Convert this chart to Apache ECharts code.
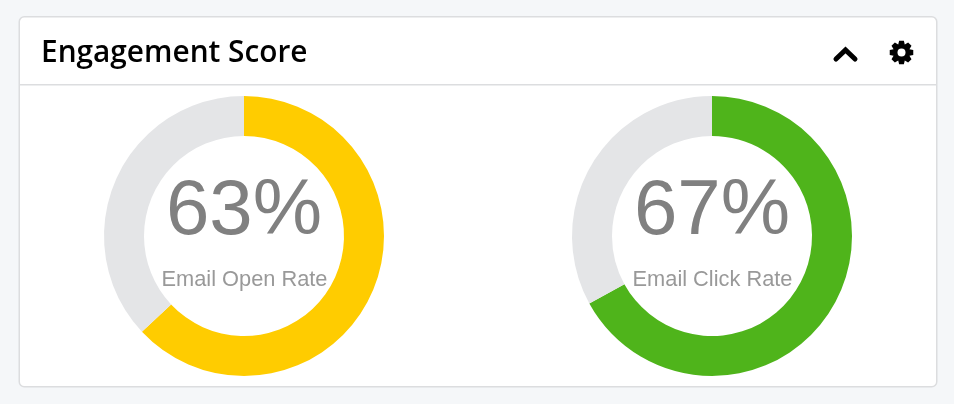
<!DOCTYPE html>
<html><head><meta charset="utf-8">
<style>html,body{margin:0;padding:0;background:#f5f7f9}#c{width:954px;height:404px}</style>
<script src="https://cdn.jsdelivr.net/npm/echarts@6/dist/echarts.min.js"></script>
</head><body><div id="c"></div>
<script>
const cardTitle = 'Engagement Score';
const metricNames = ['Email Open Rate', 'Email Click Rate'];
const metricValues = [63, 67];
const metricColors = ['#ffcc00', '#4fb41b'];
const trackColor = '#e4e5e7';
const centers = [244, 712];

const chart = echarts.init(document.getElementById('c'), null, {renderer: 'canvas'});

const gearPoints = [];
for (let i = 0; i < 8; i++) {
  const a = i * Math.PI / 4 - Math.PI / 2;
  [[-0.39, 8.6], [-0.2, 12], [0.2, 12], [0.39, 8.6]].forEach(([d, r]) => {
    gearPoints.push([901.5 + r * Math.cos(a + d), 52.5 + r * Math.sin(a + d)]);
  });
}

const graphic = [
  {type: 'rect', z: -2, silent: true, shape: {x: 19.25, y: 16.75, width: 917.5, height: 370, r: 5},
   style: {fill: '#fff', stroke: '#dcdddf', lineWidth: 1.5}},
  {type: 'line', z: -1, silent: true, shape: {x1: 20, y1: 84.75, x2: 936, y2: 84.75},
   style: {stroke: '#dcdddf', lineWidth: 1.5}},
  {type: 'text', style: {x: 41, y: 54, text: cardTitle, fill: '#000', verticalAlign: 'middle',
   font: '600 29.8px "Open Sans"'}},
  {type: 'polyline', shape: {points: [[836, 59], [845.5, 50], [855, 59]]},
   style: {stroke: '#000', fill: 'none', lineWidth: 5, lineCap: 'round', lineJoin: 'miter'}},
  {type: 'polygon', shape: {points: gearPoints}, style: {fill: '#000'}},
  {type: 'circle', shape: {cx: 901.5, cy: 52.5, r: 4}, style: {fill: '#fff'}}
];
const series = [];
metricValues.forEach((v, i) => {
  series.push({
    type: 'pie', silent: true, animation: false, center: [centers[i], 236], radius: [100, 140],
    startAngle: 90, clockwise: true, label: {show: false}, labelLine: {show: false},
    data: [
      {value: v, name: metricNames[i], itemStyle: {color: metricColors[i]}},
      {value: 100 - v, name: 'rest', itemStyle: {color: trackColor}}
    ]
  });
  graphic.push({type: 'text', z: 5, style: {x: centers[i], y: 212, text: v + '%', fill: '#808080',
    align: 'center', verticalAlign: 'middle', font: '78px "Liberation Sans"'}});
  graphic.push({type: 'text', z: 5, style: {x: centers[i] + 0.5, y: 280, text: metricNames[i], fill: '#999999',
    align: 'center', verticalAlign: 'middle', font: '21.8px "Liberation Sans"'}});
});
chart.setOption({animation: false, backgroundColor: '#f5f7f9', series, graphic});
</script></body></html>
